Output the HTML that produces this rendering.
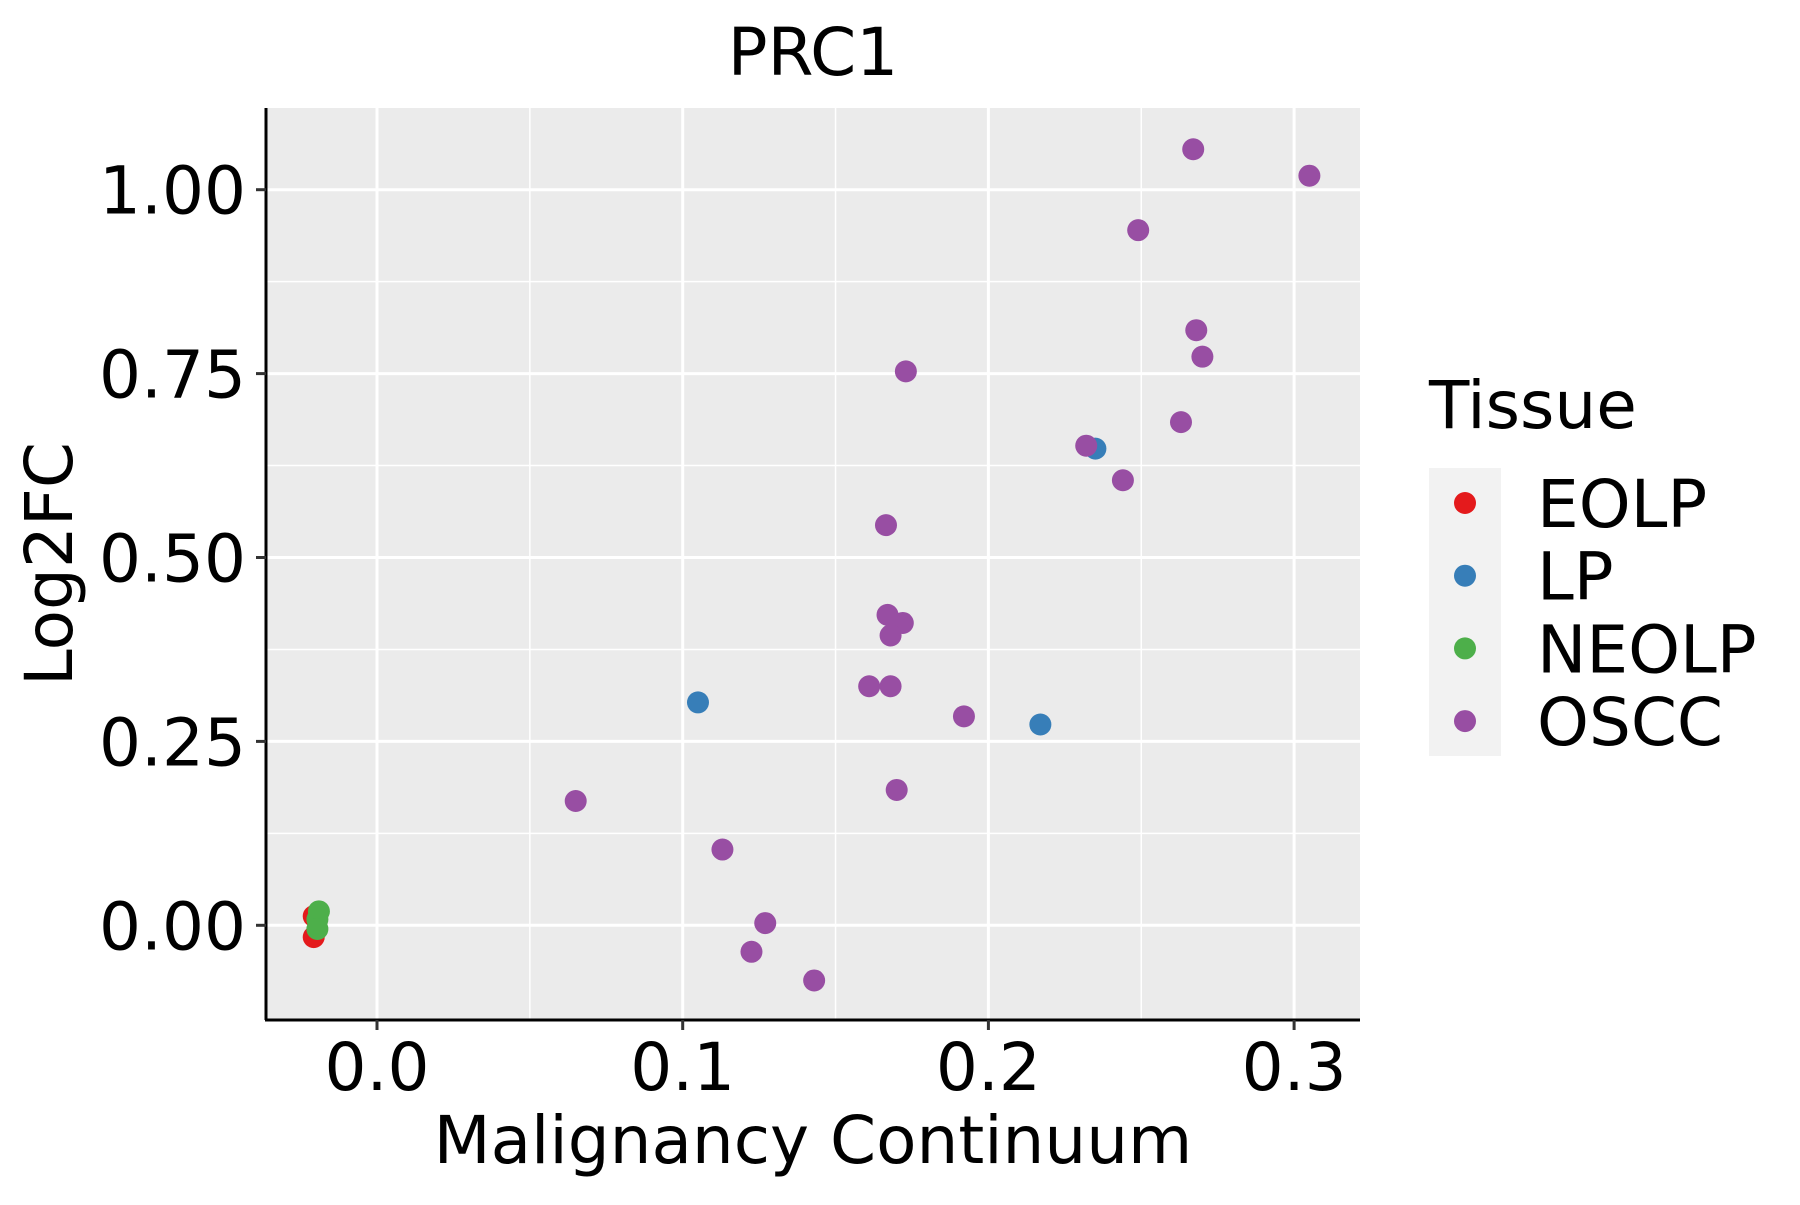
<!DOCTYPE html>
<html><head><meta charset="utf-8"><style>
body{margin:0;background:#fff;}
svg text{font-family:"DejaVu Sans","Liberation Sans",sans-serif;}
</style></head><body>
<svg id="chart" width="1800" height="1200" viewBox="0 0 1800 1200" xmlns="http://www.w3.org/2000/svg">
<rect x="266" y="108" width="1094" height="912" fill="#EBEBEB"/>
<g id="grid"></g>
<g id="points"></g>
<line x1="266" y1="108" x2="266" y2="1020" stroke="#000" stroke-width="3"/>
<line x1="265" y1="1020" x2="1360" y2="1020" stroke="#000" stroke-width="3"/>
<g id="ticks"></g>
<text x="813" y="75" font-size="66" text-anchor="middle">PRC1</text>
<text x="813" y="1163" font-size="66" text-anchor="middle">Malignancy Continuum</text>
<text transform="translate(72,564) rotate(-90)" font-size="66" text-anchor="middle">Log2FC</text>
<g>
<text x="1429" y="428" font-size="66">Tissue</text>
<rect x="1429" y="468" width="72" height="288" fill="#F2F2F2"/>
<g id="legend-entries"></g>
</g>
</svg>
<script>
const groups = ["EOLP","LP","NEOLP","OSCC"];
const colors = ["#E41A1C","#377EB8","#4DAF4A","#984EA3"];
const xTicks = [0.0,0.1,0.2,0.3];
const xTickLabels = ["0.0","0.1","0.2","0.3"];
const yTicks = [0,0.25,0.5,0.75,1.0];
const yTickLabels = ["0.00","0.25","0.50","0.75","1.00"];
const eolpX = [-0.0207,-0.0207];
const eolpY = [0.0125,-0.016];
const lpX = [0.105,0.217,0.235];
const lpY = [0.303,0.273,0.648];
const neolpX = [-0.019,-0.0195,-0.0195];
const neolpY = [0.019,0.008,-0.005];
const osccX = [0.267,0.305,0.249,0.268,0.270,0.173,0.263,0.232,0.244,0.1665,0.167,0.172,0.168,0.161,0.168,0.192,0.065,0.170,0.113,0.127,0.1225,0.143];
const osccY = [1.055,1.019,0.945,0.809,0.773,0.753,0.684,0.652,0.605,0.544,0.422,0.411,0.394,0.325,0.325,0.284,0.169,0.184,0.103,0.003,-0.036,-0.075];

const NS="http://www.w3.org/2000/svg";
const xs = v => 377 + v*3057;
const ys = v => 925.3 - v*735.6;
function mk(tag, attrs, parent){const e=document.createElementNS(NS,tag);for(const k in attrs)e.setAttribute(k,attrs[k]);parent.appendChild(e);return e;}
const grid=document.getElementById('grid'), ticks=document.getElementById('ticks'), pts=document.getElementById('points');
for(let i=0;i<xTicks.length-1;i++){const v=(xTicks[i]+xTicks[i+1])/2;const l=mk('line',{x1:xs(v),x2:xs(v),y1:108,y2:1020,stroke:'#fff','stroke-width':1.5},grid);

}
for(let i=0;i<yTicks.length-1;i++){const v=(yTicks[i]+yTicks[i+1])/2;const l=mk('line',{x1:266,x2:1360,y1:ys(v),y2:ys(v),stroke:'#fff','stroke-width':1.5},grid);

}
xTicks.forEach((v,i)=>{const l=mk('line',{x1:xs(v),x2:xs(v),y1:108,y2:1020,stroke:'#fff','stroke-width':3},grid);


const t=mk('line',{x1:xs(v),x2:xs(v),y1:1020,y2:1030,stroke:'#333','stroke-width':3},ticks);


const tx=mk('text',{x:xs(v),y:1090,'font-size':66,'text-anchor':'middle',fill:'#000'},ticks);tx.textContent=xTickLabels[i];

});
yTicks.forEach((v,i)=>{const l=mk('line',{x1:266,x2:1360,y1:ys(v),y2:ys(v),stroke:'#fff','stroke-width':3},grid);


const t=mk('line',{x1:256,x2:266,y1:ys(v),y2:ys(v),stroke:'#333','stroke-width':3},ticks);


const tx=mk('text',{x:246,y:ys(v)+24,'font-size':66,'text-anchor':'end',fill:'#000'},ticks);tx.textContent=yTickLabels[i];

});
const series=[[eolpX,eolpY],[lpX,lpY],[neolpX,neolpY],[osccX,osccY]];
series.forEach((s,g)=>{s[0].forEach((xv,i)=>{const c=mk('circle',{cx:xs(xv),cy:ys(s[1][i]),r:11,fill:colors[g]},pts);

});});
const le=document.getElementById('legend-entries');
groups.forEach((g,i)=>{const y=503+i*72.7;const c=mk('circle',{cx:1465,cy:y,r:11,fill:colors[i]},le);


const t=mk('text',{x:1537,y:y+24,'font-size':66},le);t.textContent=g;

});
</script>
</body></html>
